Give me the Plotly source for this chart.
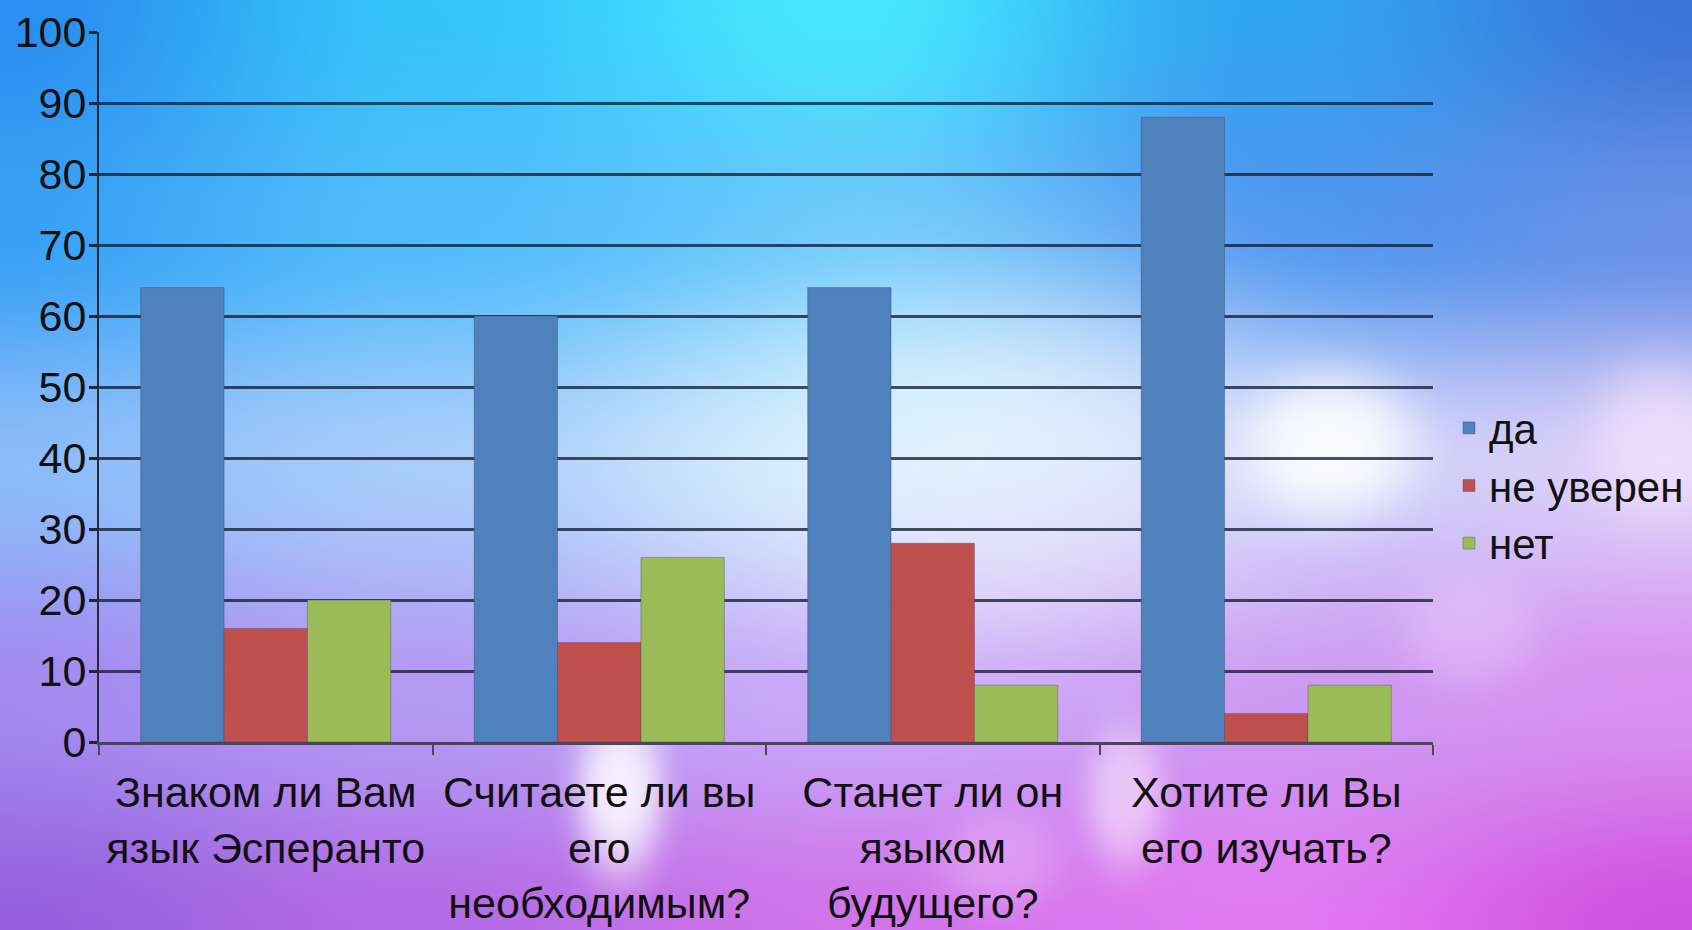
import base64
import struct
import zlib

import numpy as np
import plotly.graph_objects as go

# ---------------- data ----------------
categories = [
    "Знаком ли Вам<br>язык Эсперанто",
    "Считаете ли вы<br>его<br>необходимым?",
    "Станет ли он<br>языком<br>будущего?",
    "Хотите ли Вы<br>его изучать?",
]
series_names = ["да", "не уверен", "нет"]
values_da = [64, 60, 64, 88]
values_not_sure = [16, 14, 28, 4]
values_net = [20, 26, 8, 8]
y_ticks = [0, 10, 20, 30, 40, 50, 60, 70, 80, 90, 100]

colors = ["#4F81BD", "#C0504D", "#9BBB59"]

# ---------------- layout geometry ----------------
W, H = 1692, 930
ML, MR, MT, MB = 99, 259, 32, 188
PW, PH = W - ML - MR, H - MT - MB


# ---------------- background picture (generated) ----------------
def hex2rgb(h):
    h = h.lstrip("#")
    return [int(h[i:i + 2], 16) for i in (0, 2, 4)]


grid_rows = [
    ["#2b8ef0", "#36c4fa", "#46e8ff", "#32a6f2", "#3a74d8"],
    ["#3aa2f6", "#52bcfb", "#60c4fb", "#4a94f0", "#6a92e8"],
    ["#8cbcfa", "#a8ccfb", "#c8e6fd", "#c8cafa", "#dccff8"],
    ["#a48af0", "#b49af4", "#c8a6f8", "#cc98f2", "#d890f0"],
    ["#9660de", "#b46ce6", "#d074ea", "#e27af2", "#d052e0"],
]
G = np.array([[hex2rgb(c) for c in row] for row in grid_rows], dtype=float)

S = 4
w, h = W // S, H // S
xs = (np.arange(w) + 0.5) * S
ys = (np.arange(h) + 0.5) * S
X, Y = np.meshgrid(xs, ys)
U = X / W * 4
V = Y / H * 4
i0 = np.clip(np.floor(V).astype(int), 0, 3)
j0 = np.clip(np.floor(U).astype(int), 0, 3)
fv = (V - i0)[..., None]
fu = (U - j0)[..., None]
fv = fv * fv * (3 - 2 * fv)
fu = fu * fu * (3 - 2 * fu)
c00 = G[i0, j0]
c01 = G[i0, j0 + 1]
c10 = G[i0 + 1, j0]
c11 = G[i0 + 1, j0 + 1]
img = (c00 * (1 - fu) + c01 * fu) * (1 - fv) + (c10 * (1 - fu) + c11 * fu) * fv

blobs = [
    # cx, cy, rx, ry, strength, sharpness, colour
    (1000, 420, 300, 170, 0.65, 1.0, "#eefcff"),
    (1010, 560, 220, 100, 0.35, 1.0, "#f6e6fa"),
    (1330, 445, 90, 75, 0.9, 1.6, "#ffffff"),
    (1660, 440, 70, 80, 0.6, 1.6, "#fbe8ff"),
    (620, 790, 45, 85, 0.85, 1.6, "#ffffff"),
    (1125, 795, 40, 70, 0.6, 1.6, "#fbeaff"),
    (1470, 630, 70, 60, 0.35, 1.6, "#f6d8ff"),
    (1000, 860, 60, 50, 0.3, 1.6, "#f8d8ff"),
]
for cx, cy, rx, ry, st, sh, col in blobs:
    d2 = ((X - cx) / rx) ** 2 + ((Y - cy) / ry) ** 2
    a = st * np.exp(-(d2 ** sh))
    img = img * (1 - a[..., None]) + np.array(hex2rgb(col))[None, None, :] * a[..., None]

img = np.clip(img, 0, 255).astype(np.uint8)


def png_uri(arr):
    hh, ww, _ = arr.shape
    raw = b"".join(b"\x00" + arr[r].tobytes() for r in range(hh))

    def chunk(t, d):
        c = struct.pack(">I", len(d)) + t + d
        return c + struct.pack(">I", zlib.crc32(t + d) & 0xFFFFFFFF)

    data = b"\x89PNG\r\n\x1a\n"
    data += chunk(b"IHDR", struct.pack(">IIBBBBB", ww, hh, 8, 2, 0, 0, 0))
    data += chunk(b"IDAT", zlib.compress(raw, 9))
    data += chunk(b"IEND", b"")
    return "data:image/png;base64," + base64.b64encode(data).decode()


bg_uri = png_uri(img)

# ---------------- figure ----------------
FONT = "Liberation Sans, Arial, sans-serif"
fig = go.Figure()
for name, vals, col in zip(series_names, [values_da, values_not_sure, values_net], colors):
    fig.add_trace(
        go.Bar(
            name=name,
            x=categories,
            y=vals,
            marker=dict(color=col, line=dict(color="rgba(60,60,80,0.35)", width=1)),
        )
    )

fig.update_layout(
    width=W,
    height=H,
    margin=dict(l=ML, r=MR, t=MT, b=MB, pad=0, autoexpand=False),
    barmode="group",
    bargap=0.25,
    bargroupgap=0,
    paper_bgcolor="#b8a8f0",
    plot_bgcolor="rgba(0,0,0,0)",
    font=dict(family=FONT, size=43, color="#111111"),
    showlegend=True,
    legend=dict(
        x=1.012,
        xanchor="left",
        y=0.49,
        yanchor="top",
        bgcolor="rgba(0,0,0,0)",
        font=dict(family=FONT, size=42, color="#111111"),
        itemwidth=30,
        tracegroupgap=0,
    ),
    images=[
        dict(
            source=bg_uri,
            xref="paper",
            yref="paper",
            x=-ML / PW,
            y=1 + MT / PH,
            sizex=W / PW,
            sizey=H / PH,
            xanchor="left",
            yanchor="top",
            sizing="stretch",
            layer="below",
        )
    ],
)
fig.update_xaxes(
    automargin=False,
    showline=True,
    linecolor="#4a4658",
    linewidth=3,
    ticks="outside",
    tickson="boundaries",
    ticklen=10,
    tickwidth=2,
    tickcolor="#4a4658",
    ticklabelstandoff=10,
    tickfont=dict(family=FONT, size=43, color="#111111"),
    showgrid=False,
)
fig.update_yaxes(
    automargin=False,
    range=[0, 100],
    tickvals=y_ticks,
    showline=True,
    linecolor="#2a2a3a",
    linewidth=2,
    ticks="outside",
    ticklen=8,
    tickwidth=3,
    tickcolor="#1e2838",
    ticklabelstandoff=-6,
    showgrid=True,
    gridcolor="rgba(20,30,50,0.78)",
    gridwidth=3,
    zeroline=False,
    tickfont=dict(family=FONT, size=43, color="#111111"),
)

fig.write_html(
    "out.html",
    config={"displayModeBar": False},
    post_script="document.body.style.margin='0';document.body.style.padding='0';document.body.style.overflow='hidden';",
)
